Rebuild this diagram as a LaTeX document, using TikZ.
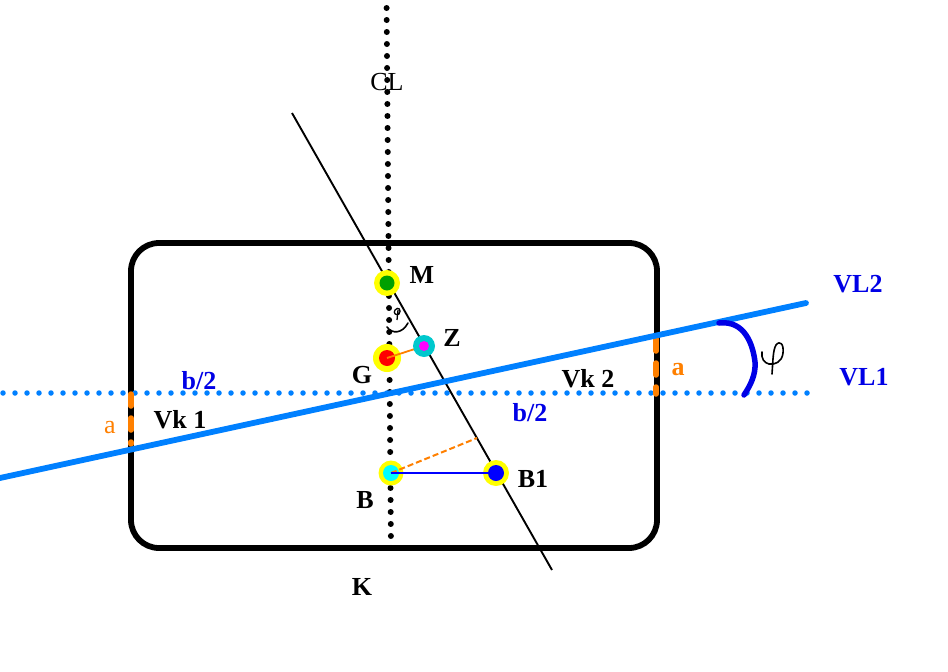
\documentclass[tikz,border=0pt]{standalone}
\usepackage{fontspec}
\setmainfont{Liberation Serif}
\definecolor{vlblue}{RGB}{0,128,255}
\definecolor{arcblue}{RGB}{0,0,230}
\definecolor{orng}{RGB}{255,128,0}
\definecolor{teal2}{RGB}{0,200,205}
\definecolor{green2}{RGB}{0,160,0}
\definecolor{lab}{RGB}{0,0,230}
\definecolor{yel}{RGB}{255,255,0}
\definecolor{cyn}{RGB}{0,255,255}
\definecolor{mag}{RGB}{255,0,255}
\definecolor{rd}{RGB}{255,0,0}
\definecolor{blu}{RGB}{0,0,255}
\tikzset{
  x=1pt,y=-1pt,
  dotline/.style={line cap=round,dash pattern=on 0pt off 12pt},
  joint/.style={circle,inner sep=0pt,minimum size=#1,line width=0pt},
  tick/.style={orng,line width=5.5pt,line cap=round},
  lbl/.style={font=\fontsize{26}{26}\selectfont\bfseries,inner sep=0pt,text=black},
  lblb/.style={lbl,text=lab},
  hand/.style={black,line width=1.6pt,line cap=round,line join=round},
}
\begin{document}
\begin{tikzpicture}
\useasboundingbox (0,0) rectangle (948,672);
\fill[white] (0,0) rectangle (948,672);
% named end points
\coordinate (cltop) at (386.6,8);
\coordinate (clbot) at (391,549);
\coordinate (vl1a) at (3,393);
\coordinate (vl1b) at (816,393);
\coordinate (vl2a) at (0,478);
\coordinate (vl2b) at (806,303);
\coordinate (axa) at (292,113);
\coordinate (axb) at (552,570);
\coordinate (foot) at (477,438);
% body
\draw[black,line width=5.8pt,rounded corners=28pt] (131,243) rectangle (657,548);
% joints positions
\coordinate (Mc) at (387,283);
\coordinate (Gc) at (387,358);
\coordinate (Zc) at (424,346);
\coordinate (Bc) at (391,473);
\coordinate (B1c) at (496,473);
\draw[black,line width=6pt,dotline] (cltop) -- (clbot);
\draw[vlblue,line width=5.5pt,dotline] (vl1a) -- (vl1b);
\draw[black,line width=1.9pt] (axa) -- (axb);
% orange ticks
\draw[tick] (656,339) -- (656,351);
\draw[tick] (656,363) -- (656,375);
\draw[tick] (656,387) -- (656,394);
\draw[tick] (131,394) -- (131,406);
\draw[tick] (131,418) -- (131,430);
\draw[tick] (131,442) -- (131,444);
\draw[vlblue,line width=5.8pt,line cap=round] (vl2a) -- (vl2b);
% angle
\draw[arcblue,line width=5.5pt,line cap=round] (719,323) .. controls (745,320) and (753,345) .. (755,362) .. controls (756,375) and (750,386) .. (744,395);
% hand drawn phi
\draw[hand] (772,374) .. controls (773,360) and (773,350) .. (776,345) .. controls (780,340) and (784,344) .. (783,353) .. controls (782,362) and (775,365) .. (769,364) .. controls (764,363) and (761,358) .. (762,352);
% small phi and arc
\draw[hand] (387,327) .. controls (392,334) and (402,334) .. (408,323);
\draw[black,line width=1.3pt] (397,320) -- (398,310) (395,310) .. controls (398,306) and (402,310) .. (399,314) .. controls (396,316) and (393,313) .. (395,310);
% joints
\node[joint=26pt,fill=yel] (M) at (Mc) {};
\node[joint=15pt,fill=green2] (Mi) at (Mc) {};
\node[joint=28pt,fill=yel] (G) at (Gc) {};
\node[joint=16pt,fill=rd] (Gi) at (Gc) {};
\node[joint=25pt,fill=yel] (B) at (Bc) {};
\node[joint=16pt,fill=cyn] (Bi) at (Bc) {};
\node[joint=26pt,fill=yel] (B1) at (B1c) {};
\node[joint=16pt,fill=blu] (B1i) at (B1c) {};
\draw[orng,line width=1.8pt] (Gi.center) -- (Zc);
\node[joint=22pt,fill=teal2] (Z) at (Zc) {};
\node[joint=10pt,fill=mag] (Zi) at (Zc) {};
\draw[orng,line width=2pt,dash pattern=on 6pt off 3pt] (Bi.center) -- (foot);
\draw[blu,line width=2pt] (Bi.center) -- (B1i.center);
% labels
\node[font=\fontsize{26}{26}\selectfont,inner sep=0pt] (tCL) at (387,82) {CL};
\node[lbl] (tM) at (422,275) {M};
\node[lbl] (tZ) at (452,338) {Z};
\node[lbl] (tG) at (362,375) {G};
\node[lbl] (tB) at (365,500) {B};
\node[lbl] (tK) at (362,587) {K};
\node[lbl] (tB1) at (533,479) {B1};
\node[lbl] (tV1) at (180,420) {Vk 1};
\node[lbl] (tV2) at (588,379) {Vk 2};
\node[lblb] (tb1) at (199,381) {b/2};
\node[lblb] (tb2) at (530,413) {b/2};
\node[lblb] (tL2) at (858,284) {VL2};
\node[lblb] (tL1) at (864,377) {VL1};
\node[font=\fontsize{26}{26}\selectfont,inner sep=0pt,text=orng] (ta1) at (110,428) {a};
\node[lbl,text=orng] (ta2) at (678,370) {a};
\end{tikzpicture}
\end{document}
